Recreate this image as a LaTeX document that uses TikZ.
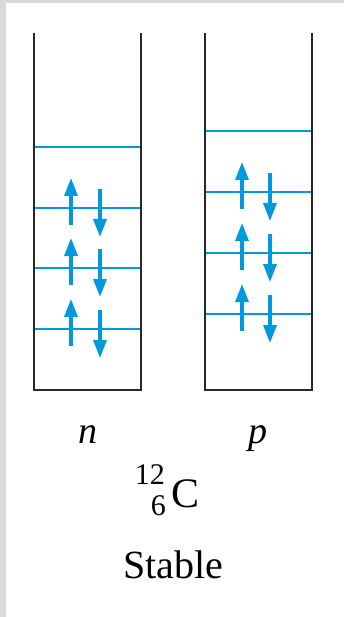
\documentclass[tikz,border=0pt]{standalone}
\usepackage{fontspec}
\setmainfont{Liberation Serif}
\usetikzlibrary{arrows.meta}
\definecolor{lvlblue}{RGB}{0,153,219}
\definecolor{boxgray}{RGB}{40,40,40}
\definecolor{framegray}{RGB}{217,217,217}
\tikzset{
  wellbox/.style={draw=boxgray, line width=2.8pt, line join=miter},
  level/.style={draw=lvlblue, line width=2.3pt},
  spin/.style={draw=lvlblue, line width=3.2pt, -{Triangle[length=18pt,width=13pt]}, lvlblue},
  lbl/.style={inner sep=0pt, anchor=base},
}
\begin{document}
\begin{tikzpicture}[x=1pt,y=-1pt]
\useasboundingbox (0,0) rectangle (344,617);
% gray frame strips
\fill[framegray] (0,0) rectangle (344,3.5);
\fill[framegray] (0,0) rectangle (6,617);
% wells
\draw[wellbox] (34,33) -- (34,390) -- (141,390) -- (141,33);
\draw[wellbox] (205,33) -- (205,390) -- (312,390) -- (312,33);
% neutron levels
\foreach \y in {147,208,268,329} \draw[level] (35,\y) -- (140,\y);
% proton levels
\foreach \y in {131,192,253,314} \draw[level] (206,\y) -- (311,\y);
% neutron spins
\foreach \y in {208,268,329} {
  \coordinate (nu\y) at (71,\y+17);
  \coordinate (nt\y) at (71,\y-30);
  \coordinate (nd\y) at (100,\y-19);
  \coordinate (nb\y) at (100,\y+29);
  \draw[spin] (nu\y) -- (nt\y);
  \draw[spin] (nd\y) -- (nb\y);
}
% proton spins
\foreach \y in {192,253,314} {
  \coordinate (pu\y) at (242,\y+17);
  \coordinate (pt\y) at (242,\y-30);
  \coordinate (pd\y) at (270,\y-19);
  \coordinate (pb\y) at (270,\y+29);
  \draw[spin] (pu\y) -- (pt\y);
  \draw[spin] (pd\y) -- (pb\y);
}
% labels
\node[lbl] (nlab) at (87.5,443) {\fontsize{38}{40}\selectfont\itshape n};
\node[lbl] (plab) at (258,443) {\fontsize{38}{40}\selectfont\itshape p};
\node[inner sep=0pt, anchor=base east] (mass) at (165,484) {\fontsize{30}{32}\selectfont 12};
\node[inner sep=0pt, anchor=base east] (zed) at (166,515) {\fontsize{30}{32}\selectfont 6};
\node[inner sep=0pt, anchor=base west] (elem) at (171,507) {\fontsize{42}{44}\selectfont C};
\node[lbl] (stab) at (173,578) {\fontsize{40}{42}\selectfont Stable};
\end{tikzpicture}
\end{document}
